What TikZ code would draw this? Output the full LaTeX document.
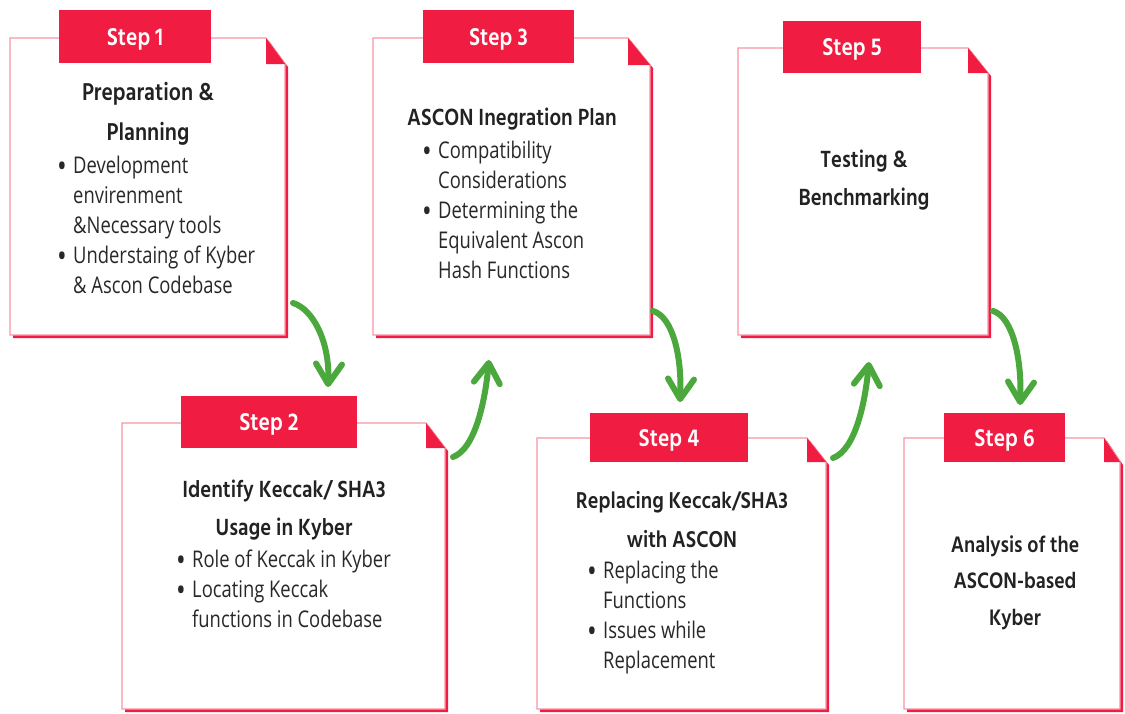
\documentclass[tikz,border=0pt]{standalone}
\usepackage{fontspec}
\usetikzlibrary{arrows.meta}
\newfontfamily\headfont[FakeStretch=0.86]{Hind Siliguri}
\newfontfamily\bodyfont[FakeStretch=0.8]{Open Sans}
\definecolor{cardred}{RGB}{240,28,66}
\definecolor{cardpink}{RGB}{246,150,166}
\definecolor{flowgreen}{RGB}{74,168,60}
\definecolor{titlegray}{RGB}{34,34,34}
\definecolor{bodygray}{RGB}{40,40,40}

% centred heading lines, first baseline at the node's base
\newcommand\headlines[3]{\fontsize{#1}{#2}\selectfont\begin{tabular}[t]{@{}c@{}}#3\end{tabular}}
% bulleted body lines
\newcommand\bodylines[1]{\begin{tabular}[t]{@{}l@{}}#1\end{tabular}}
\newcommand\bul{\makebox[16pt][l]{\raisebox{-4.5pt}{\scalebox{1.4}{\textbullet}}}}
\newcommand\nob{\hspace*{16pt}}

% card with folded top-right corner and offset red shadow: L T R B foldx foldy
\newcommand\drawcard[6]{%
  \fill[cardred, shift={(3,3)}] (#1,#2) -- (#5,#2) -- (#3,#6) -- (#3,#4) -- (#1,#4) -- cycle;
  \filldraw[fill=white, draw=cardpink, line width=1.3pt] (#1,#2) -- (#5,#2) -- (#3,#6) -- (#3,#4) -- (#1,#4) -- cycle;
  \fill[cardred] (#5,#2) -- (#5,#6) -- (#3,#6) -- cycle;
}

\tikzset{
  tabbox/.style={fill=cardred, text=white, inner sep=0pt,
    text height=17pt, text depth=0pt,
    font=\headfont\bfseries\fontsize{25}{28}\selectfont},
  heading/.style={text=titlegray, inner sep=0pt, anchor=base, font=\headfont\bfseries},
  bodytext/.style={text=bodygray, inner sep=0pt, anchor=base west,
    font=\bodyfont\fontsize{23}{30}\selectfont},
  flow/.style={draw=flowgreen, line width=6pt, line cap=round,
    -{Straight Barb[length=20pt,width=26pt,line cap=round,line join=round]}},
}

\begin{document}
\begin{tikzpicture}[x=1pt, y=-1pt]
\useasboundingbox (0,0) rectangle (1125,713);
\fill[white] (0,0) rectangle (1125,713);

% cards
\drawcard{10}{38}{285}{335}{266}{64}
\drawcard{122}{423}{445}{709}{426}{448}
\drawcard{373}{38}{650}{335}{628}{65}
\drawcard{537}{438}{826}{709}{807}{462}
\drawcard{738}{48}{988}{335}{968}{73}
\drawcard{904}{438}{1120}{709}{1104}{462}

% step tabs
\node[tabbox, minimum width=152pt, minimum height=53pt] (tab1) at (135,36.5) {Step 1};
\node[tabbox, minimum width=176pt, minimum height=52pt] (tab2) at (269,422) {Step 2};
\node[tabbox, minimum width=151pt, minimum height=53pt] (tab3) at (498.5,36.5) {Step 3};
\node[tabbox, minimum width=158pt, minimum height=49pt] (tab4) at (669,437.5) {Step 4};
\node[tabbox, minimum width=138pt, minimum height=52pt] (tab5) at (852,47) {Step 5};
\node[tabbox, minimum width=121pt, minimum height=49pt] (tab6) at (1004.5,437.5) {Step 6};

% headings
\node[heading] (h1) at (148,100) {\headlines{25}{40}{Preparation \&\\Planning}};
\node[heading] (h2) at (284,497) {\headlines{24}{38}{Identify Keccak/ SHA3\\Usage in Kyber}};
\node[heading] (h3) at (512,125) {\headlines{24}{38}{ASCON Inegration Plan}};
\node[heading] (h4) at (682,508) {\headlines{23.5}{39}{Replacing Keccak/SHA3\\with ASCON}};
\node[heading] (h5) at (864,167) {\headlines{24}{38}{Testing \&\\Benchmarking}};
\node[heading] (h6) at (1015,552) {\headlines{23}{36.5}{Analysis of the\\ASCON-based\\Kyber}};

% bullet lists
\node[bodytext] (b1) at (57,173) {\bodylines{%
  \bul Development\\ \nob envirenment\\ \nob \&Necessary tools\\
  \bul Understaing of Kyber\\ \nob \& Ascon Codebase}};
\node[bodytext] (b2) at (176,567) {\bodylines{%
  \bul Role of Keccak in Kyber\\ \bul Locating Keccak\\ \nob functions in Codebase}};
\node[bodytext] (b3) at (422,158) {\bodylines{%
  \bul Compatibility\\ \nob Considerations\\ \bul Determining the\\
  \nob Equivalent Ascon\\ \nob Hash Functions}};
\node[bodytext] (b4) at (587,578) {\bodylines{%
  \bul Replacing the\\ \nob Functions\\ \bul Issues while\\ \nob Replacement}};

% flow arrows between cards
\coordinate (a1s) at (293,303);  \coordinate (a1e) at (328,387);
\coordinate (a2s) at (453,457);  \coordinate (a2e) at (489,360);
\coordinate (a3s) at (653,311);  \coordinate (a3e) at (680,402);
\coordinate (a4s) at (833,458);  \coordinate (a4e) at (869,362);
\coordinate (a5s) at (993,311);  \coordinate (a5e) at (1020,405);
\draw[flow] (a1s) .. controls +(20,6) and +(2,-45) .. (a1e);
\draw[flow] (a2s) .. controls +(22,-8) and +(-4,42) .. (a2e);
\draw[flow] (a3s) .. controls +(20,6) and +(2,-45) .. (a3e);
\draw[flow] (a4s) .. controls +(22,-8) and +(-4,42) .. (a4e);
\draw[flow] (a5s) .. controls +(20,6) and +(2,-45) .. (a5e);
\end{tikzpicture}
\end{document}
